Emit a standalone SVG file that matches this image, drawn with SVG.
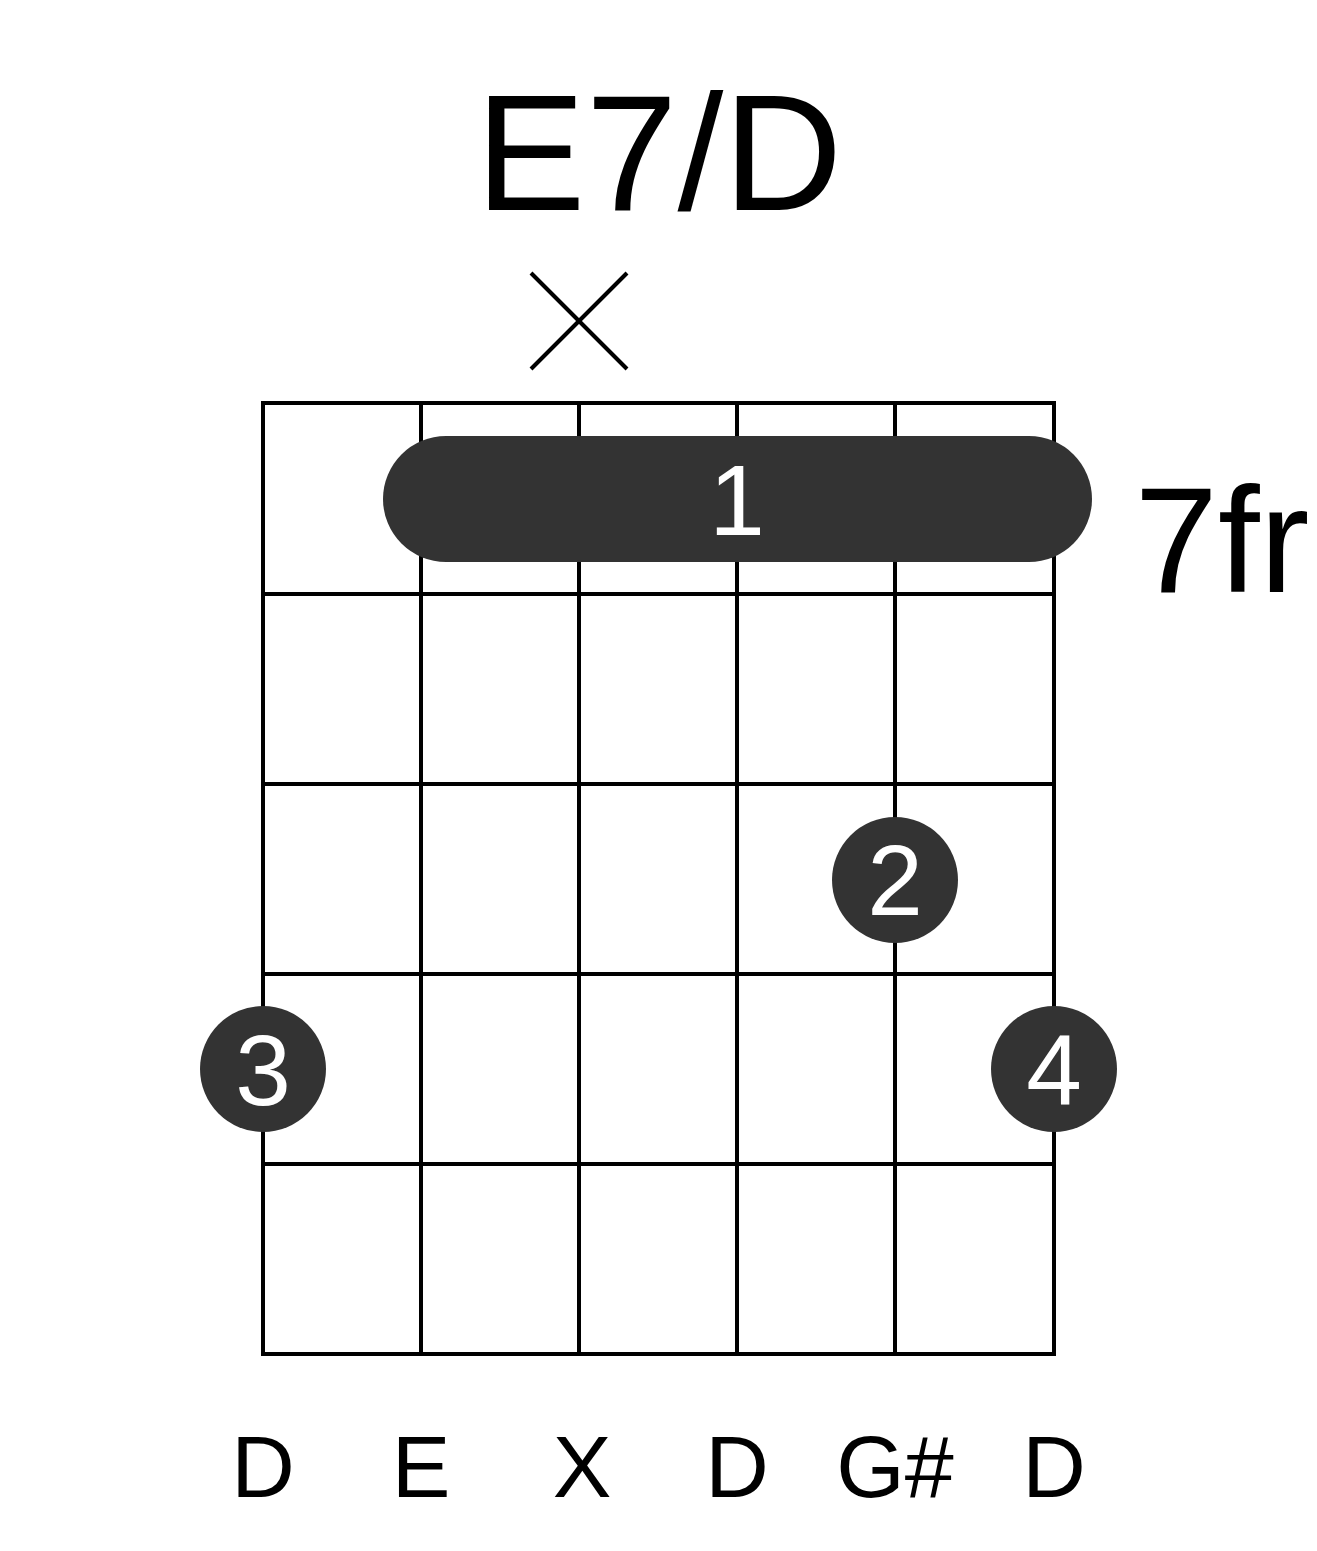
<svg xmlns="http://www.w3.org/2000/svg" width="1317" height="1551" viewBox="0 0 1317 1551">
<style>
.g{stroke:#000;stroke-width:4;fill:none}
.f{fill:#333}
.w{fill:#fff;font-family:"Liberation Sans",Arial,sans-serif;text-anchor:middle}
.t{fill:#000;font-family:"Liberation Sans",Arial,sans-serif;text-anchor:middle}
</style>
<rect width="1317" height="1551" fill="#fff"/>
<text class="t" x="659" y="210" font-size="165">E7/D</text>
<g id="mute" class="g"><line x1="531" y1="273" x2="627" y2="369"/><line x1="627" y1="273" x2="531" y2="369"/></g>
<g id="grid" class="g">
<rect x="263" y="403" width="791" height="951"/>
<line x1="421" y1="403" x2="421" y2="1354"/><line x1="579" y1="403" x2="579" y2="1354"/><line x1="737" y1="403" x2="737" y2="1354"/><line x1="895" y1="403" x2="895" y2="1354"/>
<line x1="263" y1="594" x2="1054" y2="594"/><line x1="263" y1="784" x2="1054" y2="784"/><line x1="263" y1="974" x2="1054" y2="974"/><line x1="263" y1="1164" x2="1054" y2="1164"/>
</g>
<g id="barre"><rect class="f" x="383" y="436" width="709" height="126" rx="63"/><text class="w" x="737" y="535" font-size="100">1</text></g>
<g id="f2"><circle class="f" cx="895" cy="880" r="63"/><text class="w" x="895" y="915" font-size="100">2</text></g>
<g id="f3"><circle class="f" cx="263" cy="1069" r="63"/><text class="w" x="263" y="1105" font-size="100">3</text></g>
<g id="f4"><circle class="f" cx="1054" cy="1069" r="63"/><text class="w" x="1054" y="1105" font-size="100">4</text></g>
<text class="t" x="1222" y="592" font-size="150">7fr</text>
<g class="t" font-size="88">
<text x="263" y="1497">D</text><text x="421" y="1497">E</text><text x="582" y="1497">X</text><text x="737" y="1497">D</text><text x="895" y="1497">G#</text><text x="1054" y="1497">D</text>
</g>
</svg>
